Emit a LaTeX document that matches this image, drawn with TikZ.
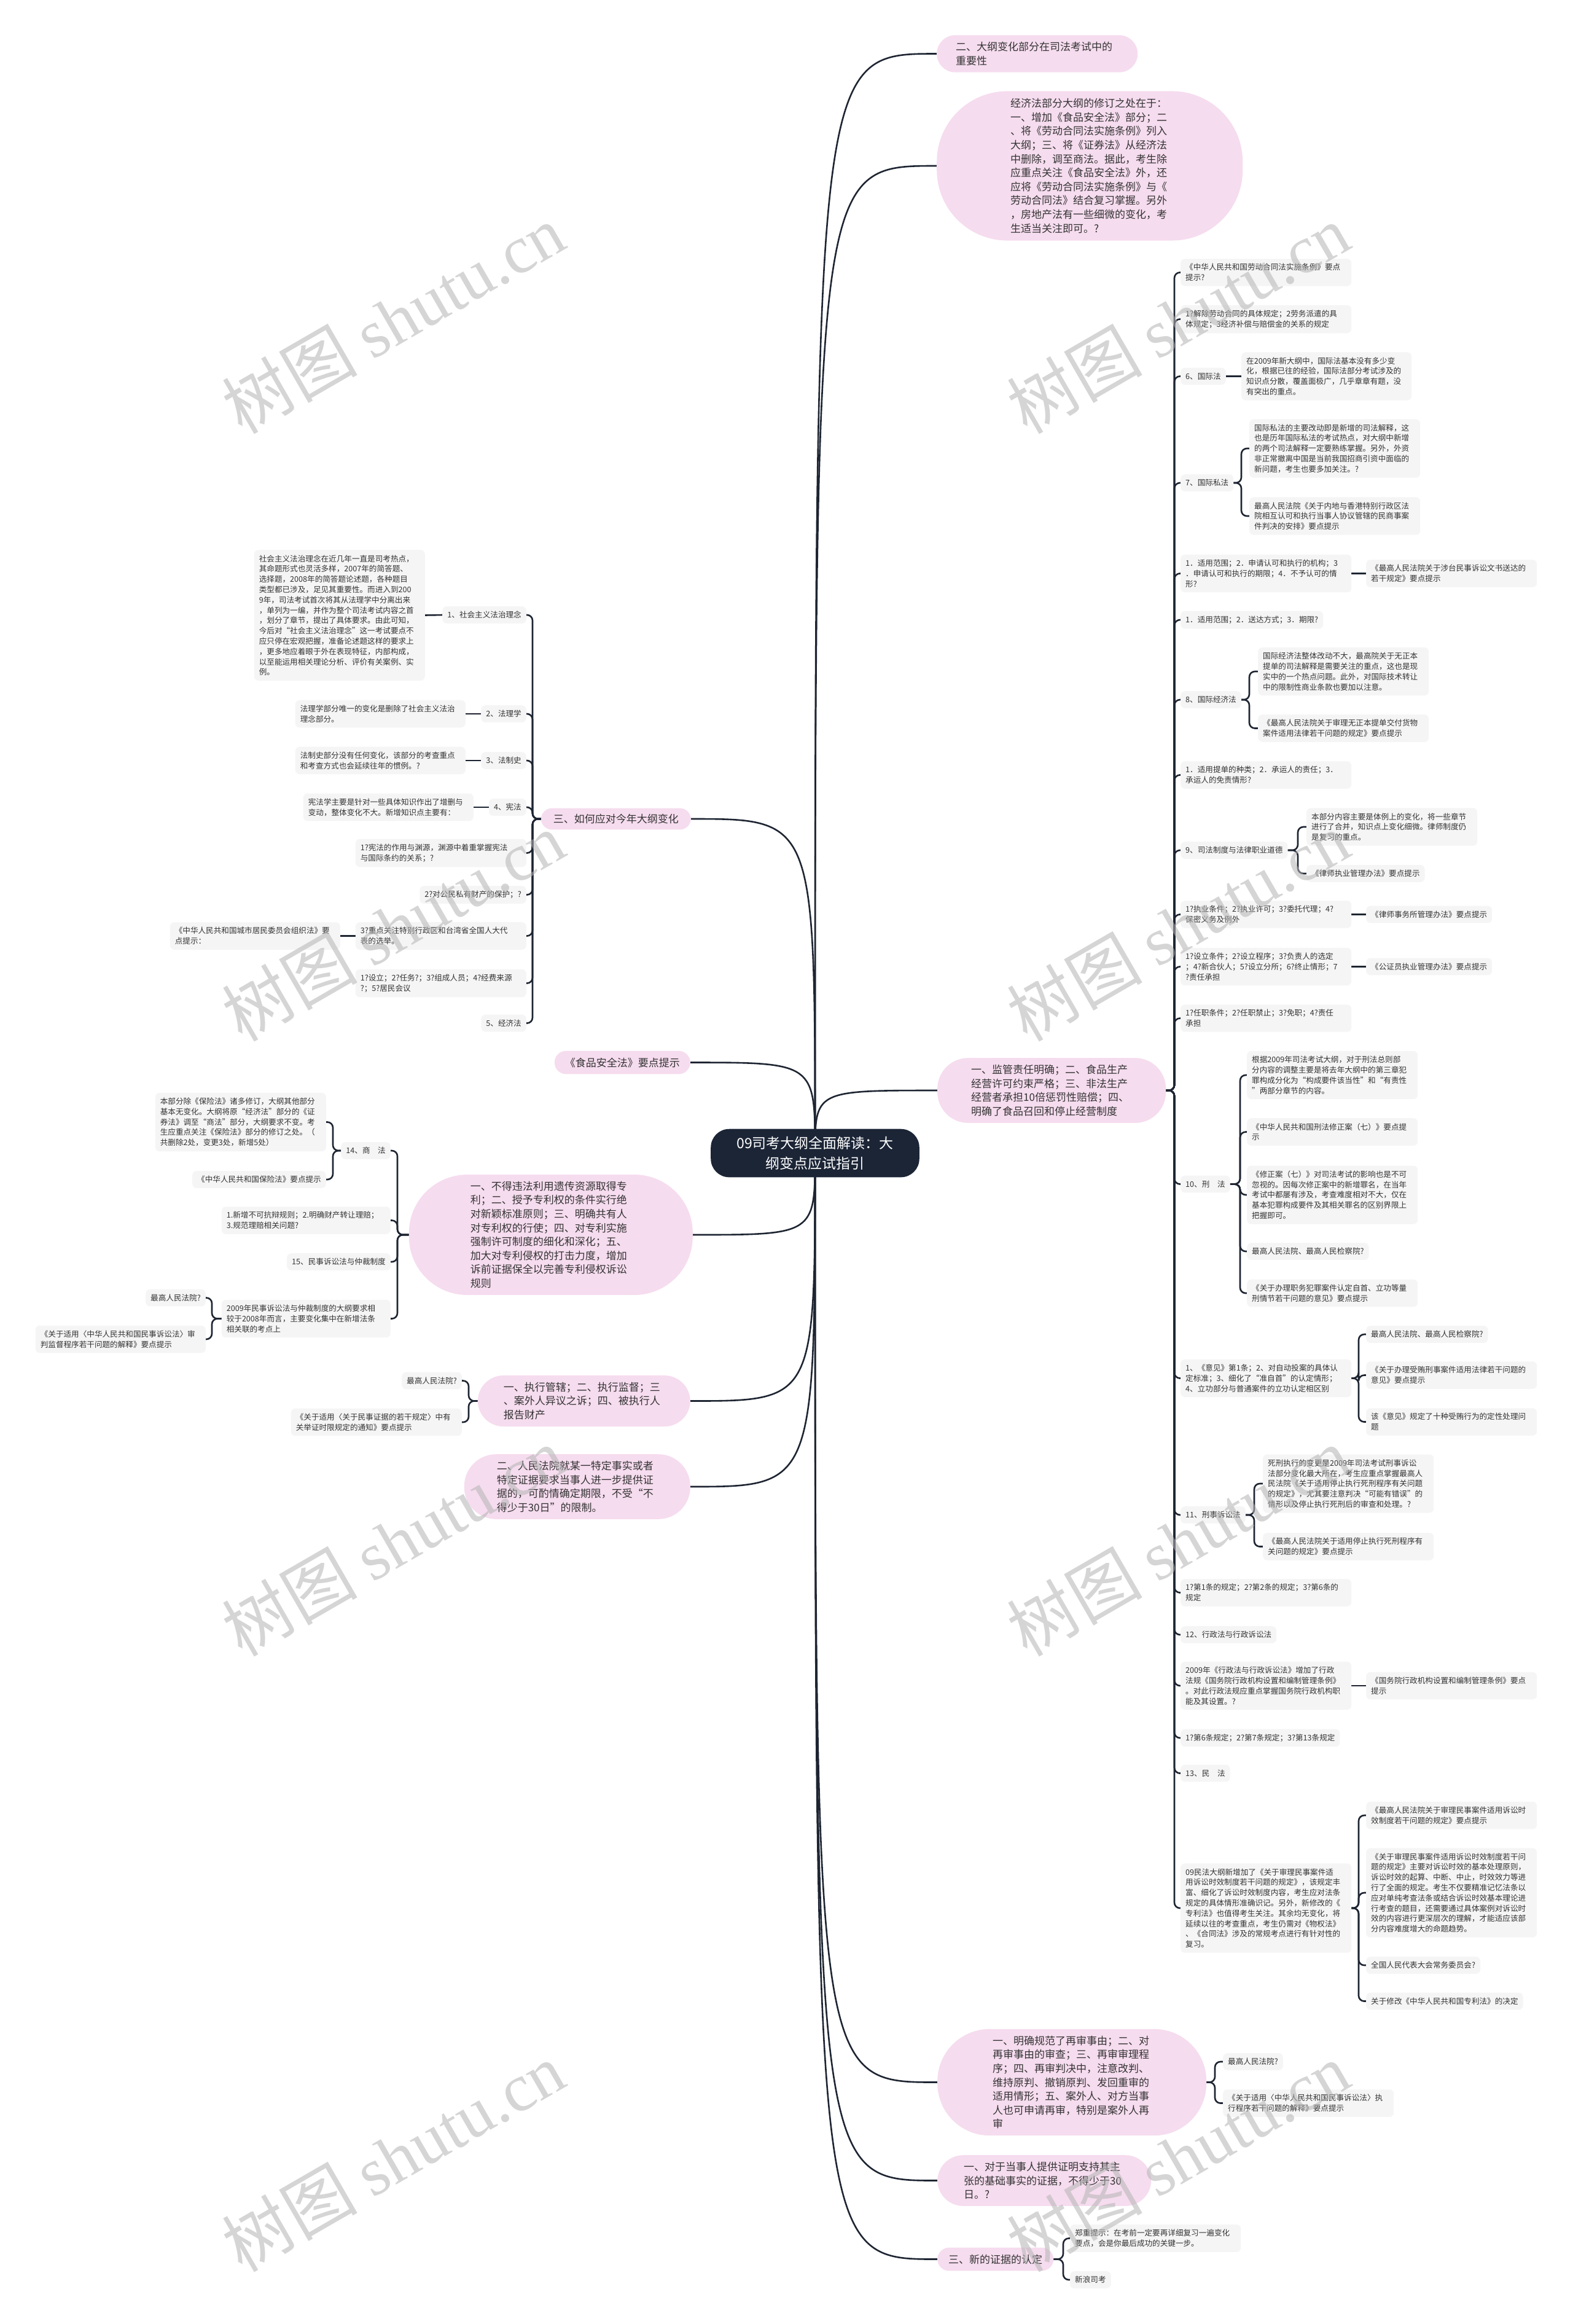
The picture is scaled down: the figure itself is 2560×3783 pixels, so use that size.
\documentclass[tikz,border=0pt]{standalone}
\usepackage{fontspec}
\setmainfont{Noto Sans CJK SC}
\newfontfamily\wmlatin{Liberation Serif}
\definecolor{gfill}{HTML}{F5F5F5}
\definecolor{pfill}{HTML}{F6DCEF}
\definecolor{txt}{HTML}{333333}
\definecolor{linec}{HTML}{1E2532}
\definecolor{cfill}{HTML}{1B2536}
\definecolor{wmc}{HTML}{B4B4B4}
\pgfdeclarelayer{bg}
\pgfsetlayers{bg,main}
\begin{document}
\begin{tikzpicture}[x=1pt,y=-1pt,
  gbox/.style={fill=gfill, text=txt, rounded corners=7pt, inner xsep=8pt, inner ysep=8pt, font=\fontsize{12.6}{16.8}\selectfont, align=left},
  pbox/.style={fill=pfill, text=txt, inner ysep=11pt, font=\fontsize{17}{22.6}\selectfont, align=left},
  ctrbox/.style={fill=cfill, text=white, rounded corners=30pt, inner xsep=42pt, inner ysep=12pt, font=\fontsize{23}{33}\selectfont, align=center},
  conn/.style={draw=linec, line width=2.6pt},
  br/.style={conn, rounded corners=9pt},
  wm/.style={text=wmc, opacity=0.55, rotate=30, font=\fontsize{110}{120}\selectfont}]
\useasboundingbox (0,0) rectangle (2560,3783);

% ---------- centre ----------
\node[ctrbox] (ctr) at (1327,1877) {09司考大纲全面解读：大\\纲变点应试指引};

% ---------- right main branches ----------
\node[pbox, anchor=west, text width=265pt, inner xsep=31pt, rounded corners=30pt] (R1) at (1525,87.5) {二、大纲变化部分在司法考试中的\\重要性};
\node[pbox, anchor=west, text width=258pt, inner xsep=120pt, inner ysep=12pt, rounded corners=115pt] (R2) at (1525,270) {经济法部分大纲的修订之处在于：\\一、增加《食品安全法》部分；二\\、将《劳动合同法实施条例》列入\\大纲；三、将《证券法》从经济法\\中删除，调至商法。据此，考生除\\应重点关注《食品安全法》外，还\\应将《劳动合同法实施条例》与《\\劳动合同法》结合复习掌握。另外\\，房地产法有一些细微的变化，考\\生适当关注即可。?};
\node[pbox, anchor=west, text width=262pt, inner xsep=55pt, rounded corners=50pt] (R3) at (1526,1775) {一、监管责任明确；二、食品生产\\经营许可约束严格；三、非法生产\\经营者承担10倍惩罚性赔偿；四、\\明确了食品召回和停止经营制度};
\node[pbox, anchor=west, text width=258pt, inner xsep=90pt, rounded corners=85pt] (R4) at (1526,3389.5) {一、明确规范了再审事由；二、对\\再审事由的审查；三、再审审理程\\序；四、再审判决中，注意改判、\\维持原判、撤销原判、发回重审的\\适用情形；五、案外人、对方当事\\人也可申请再审，特别是案外人再\\审};
\node[pbox, anchor=west, text width=262pt, inner xsep=43pt, rounded corners=42pt] (R5) at (1526,3549.5) {一、对于当事人提供证明支持其主\\张的基础事实的证据，不得少于30\\日。?};
\node[pbox, anchor=west, inner xsep=18pt, rounded corners=19pt] (R6) at (1526,3677.5) {三、新的证据的认定};

% ---------- left main branches ----------
\node[pbox, anchor=east, inner xsep=20pt, inner ysep=9.5pt, rounded corners=18pt] (L1) at (1125,1333) {三、如何应对今年大纲变化};
\node[pbox, anchor=east, inner xsep=17pt, rounded corners=19pt] (L2) at (1124,1729.5) {《食品安全法》要点提示};
\node[pbox, anchor=east, text width=262pt, inner xsep=100pt, rounded corners=95pt] (L3) at (1128,2010) {一、不得违法利用遗传资源取得专\\利；二、授予专利权的条件实行绝\\对新颖标准原则；三、明确共有人\\对专利权的行使；四、对专利实施\\强制许可制度的细化和深化；五、\\加大对专利侵权的打击力度，增加\\诉前证据保全以完善专利侵权诉讼\\规则};
\node[pbox, anchor=east, text width=262pt, inner xsep=42pt, rounded corners=42pt] (L4) at (1124,2280.5) {一、执行管辖；二、执行监督；三\\、案外人异议之诉；四、被执行人\\报告财产};
\node[pbox, anchor=east, text width=262pt, inner xsep=53pt, rounded corners=52pt] (L5) at (1124,2420) {二、人民法院就某一特定事实或者\\特定证据要求当事人进一步提供证\\据的，可酌情确定期限，不受“不\\得少于30日”的限制。};

% ---------- children of R3 ----------
\node[gbox, anchor=west, text width=262pt] (A1) at (1922,443.5) {《中华人民共和国劳动合同法实施条例》要点\\提示?};
\node[gbox, anchor=west, text width=262pt] (A2) at (1922,519.5) {1?解除劳动合同的具体规定；2劳务派遣的具\\体规定；3经济补偿与赔偿金的关系的规定};
\node[gbox, anchor=west] (A3) at (1922,612.5) {6、国际法};
\node[gbox, anchor=west, text width=261pt] (A3c) at (2021,612.5) {在2009年新大纲中，国际法基本没有多少变\\化，根据已往的经验，国际法部分考试涉及的\\知识点分散，覆盖面极广，几乎章章有题，没\\有突出的重点。};
\node[gbox, anchor=west] (A4) at (1922,786) {7、国际私法};
\node[gbox, anchor=west, text width=262pt] (A4a) at (2034,730) {国际私法的主要改动即是新增的司法解释，这\\也是历年国际私法的考试热点，对大纲中新增\\的两个司法解释一定要熟练掌握。另外，外资\\非正常撤离中国是当前我国招商引资中面临的\\新问题，考生也要多加关注。?};
\node[gbox, anchor=west, text width=262pt] (A4b) at (2034,840) {最高人民法院《关于内地与香港特别行政区法\\院相互认可和执行当事人协议管辖的民商事案\\件判决的安排》要点提示};
\node[gbox, anchor=west, text width=262pt] (A5) at (1922,933.5) {1．适用范围；2．申请认可和执行的机构；3\\．申请认可和执行的期限；4．不予认可的情\\形?};
\node[gbox, anchor=west, text width=262pt] (A5c) at (2224,933.5) {《最高人民法院关于涉台民事诉讼文书送达的\\若干规定》要点提示};
\node[gbox, anchor=west] (A6) at (1922,1009) {1．适用范围；2．送达方式；3．期限?};
\node[gbox, anchor=west] (A7) at (1922,1139) {8、国际经济法};
\node[gbox, anchor=west, text width=262pt] (A7a) at (2048,1093) {国际经济法整体改动不大，最高院关于无正本\\提单的司法解释是需要关注的重点，这也是现\\实中的一个热点问题。此外，对国际技术转让\\中的限制性商业条款也要加以注意。};
\node[gbox, anchor=west, text width=262pt] (A7b) at (2048,1185.5) {《最高人民法院关于审理无正本提单交付货物\\案件适用法律若干问题的规定》要点提示};
\node[gbox, anchor=west, text width=262pt] (A8) at (1922,1261.5) {1．适用提单的种类；2．承运人的责任；3．\\承运人的免责情形?};
\node[gbox, anchor=west] (A9) at (1922,1384) {9、司法制度与法律职业道德};
\node[gbox, anchor=west, text width=262pt] (A9a) at (2127,1346) {本部分内容主要是体例上的变化，将一些章节\\进行了合并，知识点上变化细微。律师制度仍\\是复习的重点。};
\node[gbox, anchor=west] (A9b) at (2127,1422) {《律师执业管理办法》要点提示};
\node[gbox, anchor=west, text width=262pt] (A10) at (1922,1488.5) {1?执业条件；2?执业许可；3?委托代理；4?\\保密义务及例外};
\node[gbox, anchor=west] (A10c) at (2224,1488.5) {《律师事务所管理办法》要点提示};
\node[gbox, anchor=west, text width=262pt] (A11) at (1922,1573.5) {1?设立条件；2?设立程序；3?负责人的选定\\；4?新合伙人；5?设立分所；6?终止情形；7\\?责任承担};
\node[gbox, anchor=west] (A11c) at (2224,1573.5) {《公证员执业管理办法》要点提示};
\node[gbox, anchor=west, text width=262pt] (A12) at (1922,1657.5) {1?任职条件；2?任职禁止；3?免职；4?责任\\承担};
\node[gbox, anchor=west] (A13) at (1922,1927.5) {10、刑\quad 法};
\node[gbox, anchor=west, text width=262pt] (A13a) at (2030,1750) {根据2009年司法考试大纲，对于刑法总则部\\分内容的调整主要是将去年大纲中的第三章犯\\罪构成分化为“构成要件该当性”和“有责性\\”两部分章节的内容。};
\node[gbox, anchor=west, text width=262pt] (A13b) at (2030,1842.5) {《中华人民共和国刑法修正案（七）》要点提\\示};
\node[gbox, anchor=west, text width=262pt] (A13c) at (2030,1945) {《修正案（七）》对司法考试的影响也是不可\\忽视的。因每次修正案中的新增罪名，在当年\\考试中都屡有涉及，考查难度相对不大，仅在\\基本犯罪构成要件及其相关罪名的区别界限上\\把握即可。};
\node[gbox, anchor=west] (A13d) at (2030,2037) {最高人民法院、最高人民检察院?};
\node[gbox, anchor=west, text width=262pt] (A13e) at (2030,2105) {《关于办理职务犯罪案件认定自首、立功等量\\刑情节若干问题的意见》要点提示};
\node[gbox, anchor=west, text width=262pt] (A14) at (1922,2243.5) {1、《意见》第1条；2、对自动投案的具体认\\定标准；3、细化了“准自首”的认定情形；\\4、立功部分与普通案件的立功认定相区别};
\node[gbox, anchor=west] (A14a) at (2224,2172) {最高人民法院、最高人民检察院?};
\node[gbox, anchor=west, text width=262pt] (A14b) at (2224,2238.5) {《关于办理受贿刑事案件适用法律若干问题的\\意见》要点提示};
\node[gbox, anchor=west, text width=262pt] (A14c) at (2224,2314.5) {该《意见》规定了十种受贿行为的定性处理问\\题};
\node[gbox, anchor=west] (A15) at (1922,2466) {11、刑事诉讼法};
\node[gbox, anchor=west, text width=262pt] (A15a) at (2056,2415) {死刑执行的变更是2009年司法考试刑事诉讼\\法部分变化最大所在，考生应重点掌握最高人\\民法院《关于适用停止执行死刑程序有关问题\\的规定》，尤其要注意判决“可能有错误”的\\情形以及停止执行死刑后的审查和处理。?};
\node[gbox, anchor=west, text width=262pt] (A15b) at (2056,2517.5) {《最高人民法院关于适用停止执行死刑程序有\\关问题的规定》要点提示};
\node[gbox, anchor=west, text width=262pt] (A16) at (1922,2592.5) {1?第1条的规定；2?第2条的规定；3?第6条的\\规定};
\node[gbox, anchor=west] (A17) at (1922,2661) {12、行政法与行政诉讼法};
\node[gbox, anchor=west, text width=262pt] (A18) at (1922,2744) {2009年《行政法与行政诉讼法》增加了行政\\法规《国务院行政机构设置和编制管理条例》\\。对此行政法规应重点掌握国务院行政机构职\\能及其设置。?};
\node[gbox, anchor=west, text width=262pt] (A18c) at (2224,2744) {《国务院行政机构设置和编制管理条例》要点\\提示};
\node[gbox, anchor=west] (A19) at (1922,2829) {1?第6条规定；2?第7条规定；3?第13条规定};
\node[gbox, anchor=west] (A20) at (1922,2886.5) {13、民\quad 法};
\node[gbox, anchor=west, text width=262pt] (A21) at (1922,3106) {09民法大纲新增加了《关于审理民事案件适\\用诉讼时效制度若干问题的规定》，该规定丰\\富、细化了诉讼时效制度内容，考生应对法条\\规定的具体情形准确识记。另外，新修改的《\\专利法》也值得考生关注。其余均无变化，将\\延续以往的考查重点，考生仍需对《物权法》\\、《合同法》涉及的常规考点进行有针对性的\\复习。};
\node[gbox, anchor=west, text width=262pt] (A21a) at (2224,2955) {《最高人民法院关于审理民事案件适用诉讼时\\效制度若干问题的规定》要点提示};
\node[gbox, anchor=west, text width=262pt] (A21b) at (2224,3081) {《关于审理民事案件适用诉讼时效制度若干问\\题的规定》主要对诉讼时效的基本处理原则，\\诉讼时效的起算、中断、中止，时效效力等进\\行了全面的规定。考生不仅要精准记忆法条以\\应对单纯考查法条或结合诉讼时效基本理论进\\行考查的题目，还需要通过具体案例对诉讼时\\效的内容进行更深层次的理解，才能适应该部\\分内容难度增大的命题趋势。};
\node[gbox, anchor=west] (A21c) at (2224,3199) {全国人民代表大会常务委员会?};
\node[gbox, anchor=west] (A21d) at (2224,3257.5) {关于修改《中华人民共和国专利法》的决定};

% ---------- children of R4, R6 ----------
\node[gbox, anchor=west] (R4a) at (1991,3356) {最高人民法院?};
\node[gbox, anchor=west, text width=262pt] (R4b) at (1991,3423.5) {《关于适用〈中华人民共和国民事诉讼法〉执\\行程序若干问题的解释》要点提示};
\node[gbox, anchor=west, text width=262pt] (R6a) at (1742,3643.5) {郑重提示：在考前一定要再详细复习一遍变化\\要点，会是你最后成功的关键一步。};
\node[gbox, anchor=west] (R6b) at (1742,3711) {新浪司考};

% ---------- children of L1 ----------
\node[gbox, anchor=east] (B1) at (857,1001) {1、社会主义法治理念};
\node[gbox, anchor=east, text width=262pt] (B1c) at (692,1001.5) {社会主义法治理念在近几年一直是司考热点，\\其命题形式也灵活多样，2007年的简答题、\\选择题，2008年的简答题论述题，各种题目\\类型都已涉及，足见其重要性。而进入到200\\9年，司法考试首次将其从法理学中分离出来\\，单列为一编，并作为整个司法考试内容之首\\，划分了章节，提出了具体要求。由此可知，\\今后对“社会主义法治理念”这一考试要点不\\应只停在宏观把握，准备论述题这样的要求上\\，更多地应着眼于外在表现特征，内部构成，\\以至能运用相关理论分析、评价有关案例、实\\例。};
\node[gbox, anchor=east] (B2) at (857,1162) {2、法理学};
\node[gbox, anchor=east, text width=261pt] (B2c) at (758,1162) {法理学部分唯一的变化是删除了社会主义法治\\理念部分。};
\node[gbox, anchor=east] (B3) at (857,1238) {3、法制史};
\node[gbox, anchor=east, text width=261pt] (B3c) at (758,1238) {法制史部分没有任何变化，该部分的考查重点\\和考查方式也会延续往年的惯例。?};
\node[gbox, anchor=east] (B4) at (857,1314) {4、宪法};
\node[gbox, anchor=east, text width=261pt] (B4c) at (771,1314) {宪法学主要是针对一些具体知识作出了增删与\\变动，整体变化不大。新增知识点主要有：};
\node[gbox, anchor=east, text width=262pt] (B5) at (857,1388.5) {1?宪法的作用与渊源，渊源中着重掌握宪法\\与国际条约的关系；?};
\node[gbox, anchor=east] (B6) at (857,1456.5) {2?对公民私有财产的保护；?};
\node[gbox, anchor=east, text width=262pt] (B7) at (857,1523.5) {3?重点关注特别行政区和台湾省全国人大代\\表的选举。};
\node[gbox, anchor=east, text width=261pt] (B7c) at (554,1523.5) {《中华人民共和国城市居民委员会组织法》要\\点提示：};
\node[gbox, anchor=east, text width=262pt] (B8) at (857,1600.5) {1?设立；2?任务?；3?组成人员；4?经费来源\\?；5?居民会议};
\node[gbox, anchor=east] (B9) at (857,1665.5) {5、经济法};

% ---------- children of L3 ----------
\node[gbox, anchor=east] (C1) at (636,1873) {14、商\quad 法};
\node[gbox, anchor=east, text width=262pt] (C1a) at (531,1826.5) {本部分除《保险法》诸多修订，大纲其他部分\\基本无变化。大纲将原“经济法”部分的《证\\券法》调至“商法”部分，大纲要求不变。考\\生应重点关注《保险法》部分的修订之处。（\\共删除2处，变更3处，新增5处）};
\node[gbox, anchor=east] (C1b) at (531,1920) {《中华人民共和国保险法》要点提示};
\node[gbox, anchor=east, text width=259pt] (C2) at (636,1986.5) {1.新增不可抗辩规则；2.明确财产转让理赔；\\3.规范理赔相关问题?};
\node[gbox, anchor=east] (C3) at (636,2054) {15、民事诉讼法与仲裁制度};
\node[gbox, anchor=east, text width=259pt] (C4) at (636,2146.5) {2009年民事诉讼法与仲裁制度的大纲要求相\\较于2008年而言，主要变化集中在新增法条\\相关联的考点上};
\node[gbox, anchor=east] (C4a) at (335,2112.5) {最高人民法院?};
\node[gbox, anchor=east, text width=261pt] (C4b) at (335,2180) {《关于适用〈中华人民共和国民事诉讼法〉审\\判监督程序若干问题的解释》要点提示};

% ---------- children of L4 ----------
\node[gbox, anchor=east] (L4a) at (752,2247.5) {最高人民法院?};
\node[gbox, anchor=east, text width=262pt] (L4b) at (752,2315) {《关于适用〈关于民事证据的若干规定〉中有\\关举证时限规定的通知》要点提示};

% ---------- spine points ----------
\coordinate (s3) at (1912,1775);
\coordinate (sA4) at (2021,786);
\coordinate (sA7) at (2034,1139);
\coordinate (sA9) at (2113,1384);
\coordinate (sA13) at (2019,1927.5);
\coordinate (sA14) at (2212,2243.5);
\coordinate (sA15) at (2042,2466);
\coordinate (sA21) at (2212,3106);
\coordinate (sR4) at (1978,3389.5);
\coordinate (sR6) at (1731,3677.5);
\coordinate (sL1) at (867,1333);
\coordinate (sL3) at (647,2010);
\coordinate (sC1) at (542,1873);
\coordinate (sC4) at (345,2146.5);
\coordinate (sL4) at (763,2280.5);

\begin{pgfonlayer}{bg}
\fill[white] (0,0) rectangle (2560,3783);
% main branches
\foreach \t in {R1,R2,R3,R4,R5,R6}
  \draw[conn] (ctr.center) .. controls (ctr.center |- \t.west) .. (\t.west);
\foreach \t in {L1,L2,L3,L4,L5}
  \draw[conn] (ctr.center) .. controls (ctr.center |- \t.east) .. (\t.east);
% R3 spine
\foreach \c in {A1,A2,A3,A4,A5,A6,A7,A8,A9,A10,A11,A12,A13,A14,A15,A16,A17,A18,A19,A20,A21}
  \draw[br] (R3.east) -- (s3) |- (\c.west);
\draw[conn] (A3.east) -- (A3c.west);
\draw[conn] (A5.east) -- (A5c.west);
\draw[conn] (A10.east) -- (A10c.west);
\draw[conn] (A11.east) -- (A11c.west);
\draw[conn] (A18.east) -- (A18c.west);
\foreach \c in {A4a,A4b} \draw[br] (A4.east) -- (sA4) |- (\c.west);
\foreach \c in {A7a,A7b} \draw[br] (A7.east) -- (sA7) |- (\c.west);
\foreach \c in {A9a,A9b} \draw[br] (A9.east) -- (sA9) |- (\c.west);
\foreach \c in {A13a,A13b,A13c,A13d,A13e} \draw[br] (A13.east) -- (sA13) |- (\c.west);
\foreach \c in {A14a,A14b,A14c} \draw[br] (A14.east) -- (sA14) |- (\c.west);
\foreach \c in {A15a,A15b} \draw[br] (A15.east) -- (sA15) |- (\c.west);
\foreach \c in {A21a,A21b,A21c,A21d} \draw[br] (A21.east) -- (sA21) |- (\c.west);
\foreach \c in {R4a,R4b} \draw[br] (R4.east) -- (sR4) |- (\c.west);
\foreach \c in {R6a,R6b} \draw[br] (R6.east) -- (sR6) |- (\c.west);
% left side
\foreach \c in {B1,B2,B3,B4,B5,B6,B7,B8,B9} \draw[br] (L1.west) -- (sL1) |- (\c.east);
\draw[conn] (B1.west) -- (B1c.east);
\draw[conn] (B2.west) -- (B2c.east);
\draw[conn] (B3.west) -- (B3c.east);
\draw[conn] (B4.west) -- (B4c.east);
\draw[conn] (B7.west) -- (B7c.east);
\foreach \c in {C1,C2,C3,C4} \draw[br] (L3.west) -- (sL3) |- (\c.east);
\foreach \c in {C1a,C1b} \draw[br] (C1.west) -- (sC1) |- (\c.east);
\foreach \c in {C4a,C4b} \draw[br] (C4.west) -- (sC4) |- (\c.east);
\foreach \c in {L4a,L4b} \draw[br] (L4.west) -- (sL4) |- (\c.east);
\end{pgfonlayer}

% ---------- watermarks ----------
\node[wm] (wm1) at (640,519) {树图 {\wmlatin shutu.cn}};
\node[wm] (wm2) at (1918,519) {树图 {\wmlatin shutu.cn}};
\node[wm] (wm3) at (640,1508) {树图 {\wmlatin shutu.cn}};
\node[wm] (wm4) at (1918,1508) {树图 {\wmlatin shutu.cn}};
\node[wm] (wm5) at (640,2509) {树图 {\wmlatin shutu.cn}};
\node[wm] (wm6) at (1918,2509) {树图 {\wmlatin shutu.cn}};
\node[wm] (wm7) at (640,3511) {树图 {\wmlatin shutu.cn}};
\node[wm] (wm8) at (1918,3511) {树图 {\wmlatin shutu.cn}};
\end{tikzpicture}
\end{document}
